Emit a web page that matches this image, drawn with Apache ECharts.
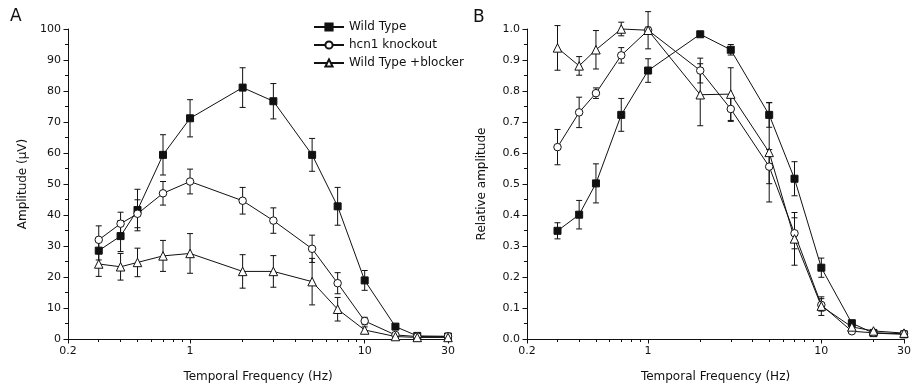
<!DOCTYPE html>
<html><head><meta charset="utf-8">
<script src="https://cdn.jsdelivr.net/npm/echarts@6/dist/echarts.min.js"></script>
<style>html,body{margin:0;padding:0;background:#fff}#c{width:914px;height:388px}</style>
</head><body><div id="c"></div>
<script>
// Temporal frequencies (Hz)
const freqs = [0.3, 0.4, 0.5, 0.7, 1, 2, 3, 5, 7, 10, 15, 20, 30];
const seriesNames = ['Wild Type', 'hcn1 knockout', 'Wild Type +blocker'];

// Panel A: amplitude (µV) and SEM
const ampWT     = [28.5, 33.2, 41.6, 59.4, 71.2, 81.1, 76.7, 59.4, 42.8, 18.9, 4.0, 1.0, 0.8];
const ampWTErr  = [3.0, 5.0, 6.7, 6.5, 6.0, 6.4, 5.7, 5.3, 6.1, 3.2, 0.5, 0.3, 0.3];
const ampKO     = [32.0, 37.2, 40.4, 47.0, 50.8, 44.6, 38.2, 29.1, 18.0, 5.8, 1.3, 0.8, 0.9];
const ampKOErr  = [4.5, 3.7, 4.5, 3.8, 4.0, 4.3, 4.1, 4.4, 3.4, 1.2, 0.4, 0.3, 0.3];
const ampBL     = [24.2, 23.3, 24.7, 26.8, 27.6, 21.8, 21.8, 18.5, 9.6, 2.9, 0.8, 0.5, 0.5];
const ampBLErr  = [4.0, 4.3, 4.6, 5.0, 6.4, 5.4, 5.1, 7.5, 3.8, 1.0, 0.4, 0.3, 0.3];

// Panel B: relative amplitude and SEM
const relWT     = [0.349, 0.401, 0.502, 0.723, 0.866, 0.983, 0.933, 0.723, 0.517, 0.230, 0.051, 0.019, 0.015];
const relWTErr  = [0.026, 0.046, 0.063, 0.053, 0.038, 0.005, 0.017, 0.040, 0.055, 0.031, 0.006, 0.004, 0.004];
const relKO     = [0.619, 0.731, 0.793, 0.915, 0.996, 0.866, 0.742, 0.556, 0.341, 0.110, 0.025, 0.020, 0.017];
const relKOErr  = [0.057, 0.049, 0.017, 0.025, 0.010, 0.040, 0.040, 0.055, 0.050, 0.020, 0.006, 0.004, 0.004];
const relBL     = [0.939, 0.881, 0.933, 1.000, 0.996, 0.788, 0.790, 0.602, 0.323, 0.106, 0.039, 0.026, 0.019];
const relBLErr  = [0.072, 0.030, 0.062, 0.022, 0.060, 0.100, 0.085, 0.160, 0.085, 0.030, 0.008, 0.005, 0.004];

// Tick labels
const xMajorTicks = [0.2, 1, 10, 30];
const xMinorTicks = [0.3, 0.4, 0.5, 0.6, 0.7, 0.8, 0.9, 2, 3, 4, 5, 6, 7, 8, 9, 20];
const yTicksA = [0, 10, 20, 30, 40, 50, 60, 70, 80, 90, 100];
const yTicksB = [0, 0.1, 0.2, 0.3, 0.4, 0.5, 0.6, 0.7, 0.8, 0.9, 1.0];

const FONT = 'DejaVu Sans';
const INK = '#111';
const chart = echarts.init(document.getElementById('c'), null, {renderer: 'canvas'});

const grids = [
  {left: 68, top: 29, width: 380, height: 310},
  {left: 527, top: 29, width: 380, height: 310}
];

function xAxes(gi) {
  return [
    {
      type: 'log', logBase: 10, gridIndex: gi, min: 0.2, max: 30, position: 'bottom',
      name: 'Temporal Frequency (Hz)', nameLocation: 'middle', nameGap: 32,
      nameTextStyle: {fontFamily: FONT, fontSize: 12, color: INK},
      axisLine: {show: true, lineStyle: {color: INK, width: 1}},
      axisTick: {show: true, length: 4.5, inside: false, customValues: xMajorTicks, lineStyle: {color: INK}},
      axisLabel: {show: true, customValues: xMajorTicks, margin: 7, fontFamily: FONT, fontSize: 11, color: INK,
        formatter: v => String(Math.round(v * 10) / 10)},
      splitLine: {show: false}, minorTick: {show: false}, minorSplitLine: {show: false}
    },
    {
      type: 'log', logBase: 10, gridIndex: gi, min: 0.2, max: 30, position: 'bottom', offset: 0,
      axisLine: {show: true, onZero: false, lineStyle: {color: INK, opacity: 0}},
      axisTick: {show: true, length: 3, inside: false, customValues: xMinorTicks, lineStyle: {color: INK, opacity: 1}},
      axisLabel: {show: false},
      splitLine: {show: false}
    }
  ];
}

function yAxis(gi, max, interval, name, ticks, fmt) {
  return {
    type: 'value', gridIndex: gi, min: 0, max: max, interval: interval,
    name: name, nameLocation: 'middle', nameGap: 39,
    nameTextStyle: {fontFamily: FONT, fontSize: 12, color: INK},
    axisLine: {show: true, lineStyle: {color: INK, width: 1}},
    axisTick: {show: true, length: 4.5, inside: false, lineStyle: {color: INK}},
    minorTick: {show: true, splitNumber: 2, length: 3, lineStyle: {color: INK}},
    axisLabel: {margin: 7, fontFamily: FONT, fontSize: 11, color: INK, formatter: fmt},
    splitLine: {show: false}
  };
}

function errData(vals, errs) {
  return freqs.map((f, i) => [f, vals[i] - errs[i], vals[i] + errs[i]]);
}

function errSeries(xi, yi, vals, errs) {
  return {
    type: 'custom', name: 'err', xAxisIndex: xi, yAxisIndex: yi, z: 1, clip: false, silent: true,
    encode: {x: 0, y: [1, 2]},
    data: errData(vals, errs),
    renderItem: function (params, api) {
      const x = api.value(0);
      const top = api.coord([x, api.value(2)]);
      const bot = api.coord([x, api.value(1)]);
      const w = 3;
      const st = {stroke: INK, lineWidth: 1};
      return {type: 'group', children: [
        {type: 'line', shape: {x1: top[0], y1: top[1], x2: bot[0], y2: bot[1]}, style: st},
        {type: 'line', shape: {x1: top[0] - w, y1: top[1], x2: top[0] + w, y2: top[1]}, style: st},
        {type: 'line', shape: {x1: bot[0] - w, y1: bot[1], x2: bot[0] + w, y2: bot[1]}, style: st}
      ]};
    }
  };
}

const symbols = [
  {symbol: 'rect', symbolSize: 7, fill: INK},
  {symbol: 'circle', symbolSize: 7.5, fill: '#fff'},
  {symbol: 'triangle', symbolSize: 8.5, fill: '#fff'}
];

function lineSeries(idx, xi, yi, vals) {
  const s = symbols[idx];
  return {
    type: 'line', name: seriesNames[idx], xAxisIndex: xi, yAxisIndex: yi, z: 3, clip: false,
    symbol: s.symbol, symbolSize: s.symbolSize, showAllSymbol: true,
    lineStyle: {color: INK, width: 1},
    itemStyle: {color: s.fill, borderColor: INK, borderWidth: 1, opacity: 1},
    emphasis: {disabled: true},
    data: freqs.map((f, i) => [f, vals[i]])
  };
}

const option = {
  animation: false,
  backgroundColor: '#fff',
  textStyle: {fontFamily: FONT},
  title: [
    {text: 'A', left: 5, top: 3, textStyle: {fontFamily: FONT, fontSize: 17, fontWeight: 'normal', color: INK}},
    {text: 'B', left: 468, top: 4, textStyle: {fontFamily: FONT, fontSize: 17, fontWeight: 'normal', color: INK}}
  ],
  legend: {
    data: seriesNames, orient: 'vertical', left: 308, top: 16, itemGap: 6,
    itemWidth: 30, itemHeight: 9,
    textStyle: {fontFamily: FONT, fontSize: 12, color: INK}
  },
  grid: grids,
  xAxis: [...xAxes(0), ...xAxes(1)],
  yAxis: [
    yAxis(0, 100, 10, 'Amplitude (\u03bcV)', yTicksA, v => String(v)),
    yAxis(1, 1, 0.1, 'Relative amplitude', yTicksB, v => v.toFixed(1))
  ],
  series: [
    errSeries(0, 0, ampWT, ampWTErr),
    errSeries(0, 0, ampKO, ampKOErr),
    errSeries(0, 0, ampBL, ampBLErr),
    lineSeries(0, 0, 0, ampWT),
    lineSeries(1, 0, 0, ampKO),
    lineSeries(2, 0, 0, ampBL),
    errSeries(2, 1, relWT, relWTErr),
    errSeries(2, 1, relKO, relKOErr),
    errSeries(2, 1, relBL, relBLErr),
    lineSeries(0, 2, 1, relWT),
    lineSeries(1, 2, 1, relKO),
    lineSeries(2, 2, 1, relBL)
  ]
};
chart.setOption(option);
</script>
</body></html>
